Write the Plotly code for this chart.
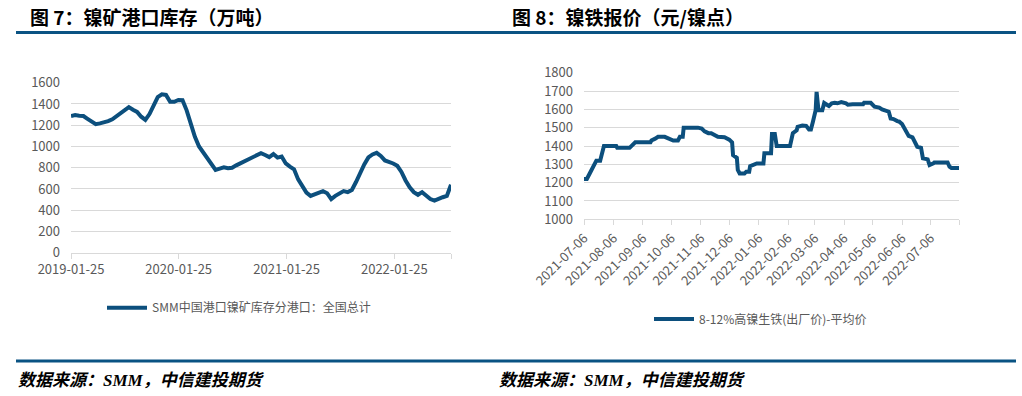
import pandas as pd
import plotly.graph_objects as go

# ---------------- data ----------------
# Figure 7: nickel ore port inventory (10k tonnes), biweekly from 2019-01-25
inv_start = "2019-01-25"
inv_values = [
    1286, 1295, 1290, 1286, 1260, 1237, 1210, 1217, 1225, 1238,
    1255, 1285, 1320, 1350, 1370, 1345, 1325, 1280, 1250, 1305,
    1395, 1465, 1490, 1485, 1420, 1420, 1437, 1435, 1340, 1200,
    1090, 1000, 945, 880, 825, 780, 792, 803, 795, 800,
    822, 840, 855, 882, 900, 919, 937, 920, 900, 928,
    895, 905, 840, 810, 785, 690, 620, 565, 535, 548,
    568, 580, 560, 505, 535, 562, 580, 570, 590, 665,
    755, 830, 897, 925, 940, 910, 868, 857, 840, 818,
    760, 680, 615, 570, 545, 570, 540, 505, 490, 511,
    522, 535, 640,
]
inv_name = "SMM中国港口镍矿库存分港口：全国总计"
inv_ticks = ["2019-01-25", "2020-01-25", "2021-01-25", "2022-01-25"]
inv_end = "2022-08-05"

# Figure 8: nickel pig iron price (yuan / nickel point)
price_dates = [
    "2021-07-06", "2021-07-09", "2021-07-12", "2021-07-16", "2021-07-19", "2021-07-23",
    "2021-07-25", "2021-07-27", "2021-08-09", "2021-08-10", "2021-08-23", "2021-08-25",
    "2021-08-29", "2021-09-14", "2021-09-15", "2021-09-19", "2021-09-22", "2021-09-29",
    "2021-10-04", "2021-10-08", "2021-10-13", "2021-10-15", "2021-10-18", "2021-10-19",
    "2021-11-03", "2021-11-07", "2021-11-10", "2021-11-14", "2021-11-17", "2021-11-21",
    "2021-11-24", "2021-12-01", "2021-12-06", "2021-12-09", "2021-12-10", "2021-12-14",
    "2021-12-15", "2021-12-17", "2021-12-22", "2021-12-24", "2021-12-27", "2021-12-28",
    "2021-12-31", "2022-01-04", "2022-01-11", "2022-01-12", "2022-01-19", "2022-01-20",
    "2022-01-23", "2022-01-25", "2022-02-08", "2022-02-09", "2022-02-11", "2022-02-15",
    "2022-02-16", "2022-02-21", "2022-02-25", "2022-02-28", "2022-03-02", "2022-03-04",
    "2022-03-06", "2022-03-07", "2022-03-08", "2022-03-10", "2022-03-14", "2022-03-16",
    "2022-03-18", "2022-03-21", "2022-03-24", "2022-03-27", "2022-03-30", "2022-04-03",
    "2022-04-08", "2022-04-10", "2022-04-15", "2022-04-26", "2022-04-27", "2022-05-04",
    "2022-05-08", "2022-05-13", "2022-05-16", "2022-05-20", "2022-05-23", "2022-05-25",
    "2022-05-28", "2022-06-01", "2022-06-03", "2022-06-06", "2022-06-09", "2022-06-13",
    "2022-06-17", "2022-06-19", "2022-06-22", "2022-06-26", "2022-06-28", "2022-07-03",
    "2022-07-05", "2022-07-09", "2022-07-10", "2022-07-24", "2022-07-26", "2022-07-28",
    "2022-08-05",
]
price_values = [
    1220, 1220, 1250, 1285, 1320, 1320,
    1360, 1400, 1400, 1390, 1390, 1400,
    1420, 1420, 1430, 1440, 1450, 1450,
    1440, 1430, 1430, 1450, 1450, 1500,
    1500, 1495, 1480, 1470, 1470, 1455,
    1450, 1448, 1435, 1420, 1350, 1335,
    1270, 1250, 1250, 1260, 1260, 1290,
    1295, 1305, 1305, 1360, 1360, 1465,
    1465, 1400, 1400, 1435, 1470, 1485,
    1505, 1512, 1510, 1490, 1490, 1530,
    1570, 1595, 1695, 1595, 1595, 1635,
    1628, 1618, 1633, 1636, 1633, 1640,
    1633, 1625, 1628, 1628, 1636, 1636,
    1615, 1610, 1600, 1590, 1587, 1550,
    1547, 1536, 1533, 1520, 1496, 1455,
    1447, 1424, 1396, 1390, 1333, 1327,
    1296, 1305, 1310, 1310, 1287, 1280,
    1280,
]
price_name = "8-12%高镍生铁(出厂价)-平均价"
price_ticks = [
    "2021-07-06", "2021-08-06", "2021-09-06", "2021-10-06", "2021-11-06",
    "2021-12-06", "2022-01-06", "2022-02-06", "2022-03-06", "2022-04-06",
    "2022-05-06", "2022-06-06", "2022-07-06",
]
price_end = "2022-08-05"

title_left = "图 7：镍矿港口库存（万吨）"
title_right = "图 8：镍铁报价（元/镍点）"
source_text = "数据来源：SMM，中信建投期货"

# ---------------- style ----------------
W, H = 1022, 396
LINE = "#0c4f7d"
RULE = "#0a5383"
GRID = "#d9d9d9"
TXT = "#595959"
FONT = "Noto Sans CJK SC"


def px(x):
    return x / W


def py(y):
    return 1 - y / H


inv_dates = pd.date_range(inv_start, periods=len(inv_values), freq="14D")

fig = go.Figure()
fig.add_trace(go.Scatter(
    x=inv_dates, y=inv_values, mode="lines", name=inv_name,
    line=dict(color=LINE, width=4), xaxis="x", yaxis="y", legend="legend",
))
fig.add_trace(go.Scatter(
    x=price_dates, y=price_values, mode="lines", name=price_name,
    line=dict(color=LINE, width=4), xaxis="x2", yaxis="y2", legend="legend2",
))

tickfont = dict(family=FONT, size=13, color=TXT)
common_x = dict(
    type="date", showgrid=False, showline=True, linecolor=GRID, linewidth=1.3,
    ticks="outside", ticklen=5, tickcolor=GRID, tickwidth=1.3,
    tickfont=tickfont, zeroline=False, fixedrange=True, automargin=False,
)
common_y = dict(
    showgrid=True, gridcolor=GRID, gridwidth=1.3, showline=False, zeroline=False,
    tickfont=tickfont, ticks="", ticklabelstandoff=10, automargin=False,
)
legend_font = dict(family=FONT, size=12, color=TXT)

fig.update_layout(
    template="none",
    width=W, height=H,
    margin=dict(l=0, r=0, t=0, b=0, autoexpand=False),
    paper_bgcolor="white", plot_bgcolor="white",
    showlegend=True,
    xaxis=dict(
        domain=[px(71), px(451)], anchor="y",
        range=[inv_start, inv_end],
        tickvals=inv_ticks + [inv_end], ticktext=inv_ticks + [""],
        **common_x,
    ),
    yaxis=dict(
        domain=[py(252.7), py(82.7)], anchor="x",
        range=[0, 1600], dtick=200, **common_y,
    ),
    xaxis2=dict(
        domain=[px(584), px(959)], anchor="y2",
        range=[price_ticks[0], price_end],
        tickvals=price_ticks + [price_end], ticktext=price_ticks + [""],
        tickangle=-45, **common_x,
    ),
    yaxis2=dict(
        domain=[py(219.3), py(72.7)], anchor="x2",
        range=[1000, 1800], dtick=100, **common_y,
    ),
    legend=dict(
        x=px(102), y=py(307.7), xanchor="left", yanchor="middle", itemwidth=40,
        font=legend_font, bgcolor="rgba(0,0,0,0)",
    ),
    legend2=dict(
        x=px(649), y=py(319), xanchor="left", yanchor="middle", itemwidth=40,
        font=legend_font, bgcolor="rgba(0,0,0,0)",
    ),
    shapes=[
        dict(type="line", xref="paper", yref="paper", x0=px(16), x1=px(1016),
             y0=py(32.5), y1=py(32.5), line=dict(color=RULE, width=3)),
        dict(type="line", xref="paper", yref="paper", x0=px(16), x1=px(1016),
             y0=py(361), y1=py(361), line=dict(color=RULE, width=3)),
    ],
    annotations=[
        dict(text="<b>" + title_left + "</b>", x=px(28), y=py(16), xref="paper", yref="paper",
             xanchor="left", yanchor="middle", showarrow=False,
             font=dict(family=FONT, size=19, color="black")),
        dict(text="<b>" + title_right + "</b>", x=px(510), y=py(16), xref="paper", yref="paper",
             xanchor="left", yanchor="middle", showarrow=False,
             font=dict(family=FONT, size=19, color="black")),
        dict(text="<b><i>" + source_text + "</i></b>", x=px(16), y=py(380), xref="paper",
             yref="paper", xanchor="left", yanchor="middle", showarrow=False,
             font=dict(family="Liberation Serif, " + FONT, size=17, color="black")),
        dict(text="<b><i>" + source_text + "</i></b>", x=px(497), y=py(380), xref="paper",
             yref="paper", xanchor="left", yanchor="middle", showarrow=False,
             font=dict(family="Liberation Serif, " + FONT, size=17, color="black")),
    ],
)

fig.write_html(
    "out.html",
    config={"displayModeBar": False},
    post_script="document.body.style.margin='0';document.body.style.overflow='hidden';",
)
